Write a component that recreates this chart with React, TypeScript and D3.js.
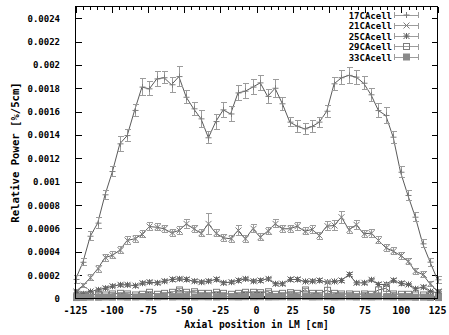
import * as d3 from 'd3'

// axial positions of the 50 measurement points [cm]
const POS = [
  -125, -119.9, -114.8, -109.7, -104.6, -99.5, -94.4, -89.3, -84.2, -79.1,
  -74.0, -68.9, -63.8, -58.7, -53.6, -48.5, -43.4, -38.3, -33.2, -28.1,
  -23.0, -17.9, -12.8, -7.7, -2.6, 2.6, 7.7, 12.8, 17.9, 23.0,
  28.1, 33.2, 38.3, 43.4, 48.5, 53.6, 58.7, 63.8, 68.9, 74.0,
  79.1, 84.2, 89.3, 94.4, 99.5, 104.6, 109.7, 114.8, 119.9, 125,
]

const V17 = [
  0.000163, 0.00031, 0.000533, 0.000645, 0.000888, 0.001087, 0.001324, 0.001395, 0.00161, 0.00181,
  0.001795, 0.00188, 0.00189, 0.00183, 0.0019, 0.001723, 0.001624, 0.001538, 0.001376, 0.001515,
  0.001615, 0.00158, 0.00176, 0.001775, 0.00181, 0.001846, 0.00173, 0.0018, 0.001667, 0.00151,
  0.001475, 0.001453, 0.001472, 0.00151, 0.001603, 0.001838, 0.00189, 0.00191, 0.001895, 0.001843,
  0.001744, 0.001609, 0.001567, 0.001381, 0.001081, 0.000882, 0.000696, 0.000468, 0.000311, 0.00016,
]
const E17 = [
  0.000035, 0.00003, 0.00004, 0.000045, 0.00004, 0.000045, 0.000065, 0.00005, 0.000055, 0.000075,
  0.00006, 0.000065, 0.00005, 0.000065, 0.000085, 0.000055, 0.000055, 0.00007, 0.00005, 0.000064,
  0.000064, 0.000064, 0.000065, 0.000064, 0.000064, 0.000064, 0.000057, 0.000075, 0.000057, 0.000036,
  0.000052, 0.000045, 0.00005, 0.000043, 0.00005, 0.000055, 0.00006, 0.000065, 0.00006, 0.000055,
  0.000055, 0.00006, 0.00007, 0.00005, 0.000045, 0.000045, 0.00004, 0.000035, 0.000035, 0.00003,
]

const V21 = [
  0.00006, 0.00011, 0.000177, 0.000254, 0.00035, 0.00037, 0.000414, 0.000497, 0.000511, 0.000548,
  0.000616, 0.00061, 0.000597, 0.000562, 0.000582, 0.000639, 0.000597, 0.000559, 0.000639, 0.000559,
  0.00052, 0.000511, 0.000582, 0.000511, 0.000597, 0.000525, 0.000576, 0.000639, 0.000597, 0.000597,
  0.000619, 0.000576, 0.000591, 0.000539, 0.000619, 0.000625, 0.000696, 0.000588, 0.000631, 0.000554,
  0.000559, 0.000497, 0.000434, 0.000405, 0.000368, 0.000319, 0.000234, 0.000205, 0.000126, 0.00006,
]
const E21 = [
  0.00002, 0.00002, 0.000025, 0.00003, 0.00003, 0.00003, 0.00003, 0.000035, 0.00003, 0.00003,
  0.000035, 0.00003, 0.00003, 0.00003, 0.000035, 0.00004, 0.00003, 0.00003, 0.000093, 0.00003,
  0.00003, 0.00003, 0.00004, 0.00003, 0.000035, 0.00003, 0.00003, 0.000035, 0.00003, 0.00003,
  0.000035, 0.00003, 0.000035, 0.00003, 0.00004, 0.00004, 0.00005, 0.00003, 0.00004, 0.00003,
  0.000035, 0.00003, 0.00003, 0.00003, 0.00003, 0.000025, 0.000025, 0.000025, 0.00002, 0.00002,
]

const V25 = [
  0.00005, 0.00004, 0.00006, 0.000074, 0.000088, 0.000105, 0.000117, 0.000117, 0.00011, 0.000131,
  0.00014, 0.000134, 0.000148, 0.000163, 0.000168, 0.000163, 0.000148, 0.00014, 0.000148, 0.000163,
  0.000134, 0.00014, 0.000154, 0.000168, 0.000148, 0.000154, 0.000168, 0.000126, 0.000126, 0.000163,
  0.000163, 0.000146, 0.000148, 0.000154, 0.00014, 0.000146, 0.000154, 0.000205, 0.000134, 0.000134,
  0.00016, 0.00012, 0.00012, 0.000155, 0.00013, 0.00012, 0.000083, 0.000097, 0.00006, 0.00005,
]
const E25 = [
  0.00001, 0.00001, 0.00001, 0.000012, 0.000012, 0.000012, 0.000012, 0.000012, 0.000012, 0.000015,
  0.000015, 0.000012, 0.000015, 0.000015, 0.000015, 0.000015, 0.000015, 0.000012, 0.000015, 0.000015,
  0.000012, 0.000012, 0.000015, 0.000015, 0.000012, 0.000015, 0.000015, 0.000012, 0.000012, 0.000015,
  0.000015, 0.000012, 0.000015, 0.000015, 0.000012, 0.000012, 0.000015, 0.00002, 0.000012, 0.000012,
  0.000015, 0.00002, 0.00002, 0.00002, 0.000015, 0.000012, 0.000012, 0.000012, 0.00001, 0.00001,
]

const V29 = [
  0.000015, 0.00003, 0.000024, 0.000039, 0.00003, 0.000039, 0.000044, 0.000039, 0.00003, 0.000036,
  0.000053, 0.000036, 0.000044, 0.000053, 0.000073, 0.000053, 0.000058, 0.000044, 0.000044, 0.000053,
  0.000044, 0.000036, 0.000044, 0.000053, 0.000053, 0.00005, 0.000058, 0.000036, 0.000044, 0.00005,
  0.000044, 0.000073, 0.000044, 0.000044, 0.00007, 0.000044, 0.000039, 0.000039, 0.000036, 0.000039,
  0.000036, 0.000073, 0.000087, 0.000039, 0.000036, 0.000036, 0.00003, 0.00003, 0.000024, 0.000015,
]
const E29 = [
  0.000008, 0.000008, 0.000008, 0.00001, 0.000008, 0.00001, 0.00001, 0.00001, 0.000008, 0.00001,
  0.00001, 0.00001, 0.00001, 0.00001, 0.000015, 0.00001, 0.00001, 0.00001, 0.00001, 0.00001,
  0.00001, 0.00001, 0.00001, 0.00001, 0.00001, 0.00001, 0.000012, 0.00001, 0.00001, 0.00001,
  0.00001, 0.000015, 0.00001, 0.00001, 0.00008, 0.00001, 0.00001, 0.00001, 0.00001, 0.00001,
  0.00001, 0.00003, 0.00004, 0.00001, 0.00001, 0.00001, 0.000008, 0.000008, 0.000008, 0.000008,
]

const V33 = [
  0.000008, 0.00001, 0.000012, 0.000011, 0.000013, 0.000012, 0.000014, 0.000012, 0.000013, 0.000015,
  0.000013, 0.000014, 0.000016, 0.000013, 0.000015, 0.000014, 0.000013, 0.000015, 0.000014, 0.000013,
  0.000015, 0.000014, 0.000013, 0.000015, 0.000014, 0.000015, 0.000013, 0.000014, 0.000015, 0.000013,
  0.000014, 0.000016, 0.000013, 0.000014, 0.000015, 0.000013, 0.000014, 0.000015, 0.000013, 0.000014,
  0.000013, 0.000015, 0.000014, 0.000013, 0.000012, 0.000013, 0.000011, 0.000012, 0.00001, 0.000008,
]
const E33 = [
  0.000004, 0.000004, 0.000004, 0.000004, 0.000004, 0.000004, 0.000004, 0.000004, 0.000004, 0.000005,
  0.000004, 0.000004, 0.000005, 0.000004, 0.000005, 0.000004, 0.000004, 0.000005, 0.000004, 0.000004,
  0.000005, 0.000004, 0.000004, 0.000005, 0.000004, 0.000005, 0.000004, 0.000004, 0.000005, 0.000004,
  0.000004, 0.000005, 0.000004, 0.000004, 0.000005, 0.000004, 0.000004, 0.000005, 0.000004, 0.000004,
  0.000004, 0.000005, 0.000004, 0.000004, 0.000004, 0.000004, 0.000004, 0.000004, 0.000004, 0.000004,
]

const SERIES_NAMES = ['17CAcell', '21CAcell', '25CAcell', '29CAcell', '33CAcell']
const MARKERS = ['plus', 'cross', 'star', 'box', 'fbox']

const X_TICKS = [-125, -100, -75, -50, -25, 0, 25, 50, 75, 100, 125]
const X_LABELS = ['-125', '-100', '-75', '-50', '-25', '0', '25', '50', '75', '100', '125']
const Y_TICKS = [0, 0.0002, 0.0004, 0.0006, 0.0008, 0.001, 0.0012, 0.0014, 0.0016, 0.0018, 0.002, 0.0022, 0.0024]
const Y_LABELS = ['0', '0.0002', '0.0004', '0.0006', '0.0008', '0.001', '0.0012', '0.0014', '0.0016', '0.0018', '0.002', '0.0022', '0.0024']

const W = 449
const H = 335
const FONT = '"DejaVu Sans Mono", monospace'
const LINE = '#5a5a5a'
const BAR = '#9c9c9c'
const MARK = '#7c7c7c'

function marker(kind: string, cx: number, cy: number, key: string | number) {
  const s = 3
  if (kind === 'plus')
    return <path key={key} d={`M${cx - s},${cy}H${cx + s}M${cx},${cy - s}V${cy + s}`} stroke={MARK} fill="none" />
  if (kind === 'cross')
    return <path key={key} d={`M${cx - s},${cy - s}L${cx + s},${cy + s}M${cx - s},${cy + s}L${cx + s},${cy - s}`} stroke={MARK} fill="none" />
  if (kind === 'star')
    return <path key={key} d={`M${cx - s},${cy}H${cx + s}M${cx},${cy - s}V${cy + s}M${cx - s},${cy - s}L${cx + s},${cy + s}M${cx - s},${cy + s}L${cx + s},${cy - s}`} stroke={'#606060'} fill="none" />
  if (kind === 'box')
    return <rect key={key} x={cx - s} y={cy - s} width={2 * s} height={2 * s} stroke={MARK} fill="none" />
  return <rect key={key} x={cx - s} y={cy - s} width={2 * s} height={2 * s} stroke={'#8a8a8a'} fill={'#8a8a8a'} />
}

export default function App() {
  const pad = { l: 75.5, r: 437.5, t: 6.5, b: 298.5 }
  const x = d3.scaleLinear().domain([-125, 125]).range([pad.l, pad.r])
  const y = d3.scaleLinear().domain([0, 0.0025]).range([pad.b, pad.t])

  const series = [
    { name: SERIES_NAMES[0], v: V17, e: E17, m: MARKERS[0] },
    { name: SERIES_NAMES[1], v: V21, e: E21, m: MARKERS[1] },
    { name: SERIES_NAMES[2], v: V25, e: E25, m: MARKERS[2] },
    { name: SERIES_NAMES[3], v: V29, e: E29, m: MARKERS[3] },
    { name: SERIES_NAMES[4], v: V33, e: E33, m: MARKERS[4] },
  ]

  const line = d3.line<number>().x((_, i) => x(POS[i])).y(d => y(d))
  const minor = d3.range(-125, 126, 5)

  return (
    <svg width={W} height={H} style={{ position: 'absolute', left: 0, top: 0, background: '#fff' }} fontFamily={FONT}>
      <rect width={W} height={H} fill="#fff" />

      {/* ticks on all four sides */}
      <g stroke="#000" shapeRendering="crispEdges">
        {minor.map(t => (
          <g key={'mx' + t}>
            <line x1={Math.round(x(t)) + 0.5} x2={Math.round(x(t)) + 0.5} y1={pad.b} y2={pad.b - (X_TICKS.includes(t) ? 6 : 3)} />
            <line x1={Math.round(x(t)) + 0.5} x2={Math.round(x(t)) + 0.5} y1={pad.t} y2={pad.t + (X_TICKS.includes(t) ? 6 : 3)} />
          </g>
        ))}
        {Y_TICKS.map(t => (
          <g key={'y' + t}>
            <line x1={pad.l} x2={pad.l + 6} y1={Math.round(y(t)) + 0.5} y2={Math.round(y(t)) + 0.5} />
            <line x1={pad.r} x2={pad.r - 6} y1={Math.round(y(t)) + 0.5} y2={Math.round(y(t)) + 0.5} />
          </g>
        ))}
      </g>

      {Y_TICKS.map((t, i) => (
        <text key={'yl' + t} x={60} y={y(t) + 3.5} textAnchor="end" fontSize={9} fontWeight="bold" fill="#000">{Y_LABELS[i]}</text>
      ))}
      {X_TICKS.map((t, i) => (
        <text key={'xl' + t} x={x(t)} y={313.5} textAnchor="middle" fontSize={10} fontWeight="bold" fill="#000">{X_LABELS[i]}</text>
      ))}
      <text x={(pad.l + pad.r) / 2} y={328} textAnchor="middle" fontSize={9.6} fontWeight="bold" fill="#000">Axial position in LM [cm]</text>
      <text transform={`translate(18.5,${(pad.t + pad.b) / 2}) rotate(-90)`} textAnchor="middle" fontSize={10.6} fontWeight="bold" fill="#000">Relative Power [%/5cm]</text>

      {/* series */}
      {series.map(s => (
        <g key={s.name}>
          <path d={line(s.v) || ''} fill="none" stroke={LINE} strokeWidth={1} />
          <g stroke={BAR} shapeRendering="crispEdges">
            {s.v.map((v, i) => {
              const cx = Math.round(x(POS[i])) + 0.5
              const y1 = y(v - s.e[i])
              const y2 = y(v + s.e[i])
              return (
                <path key={i} d={`M${cx},${y1}V${y2}M${cx - 3},${y1}H${cx + 3}M${cx - 3},${y2}H${cx + 3}`} />
              )
            })}
          </g>
          {s.v.map((v, i) => marker(s.m, Math.round(x(POS[i])) + 0.5, y(v), i))}
        </g>
      ))}

      {/* legend */}
      {series.map((s, i) => {
        const ly = 15 + i * 10.5
        return (
          <g key={'lg' + s.name}>
            <text x={392} y={ly + 3.5} textAnchor="end" fontSize={9} fontWeight="bold" fill="#000">{s.name}</text>
            <path d={`M394.5,${ly}H418.5M394.5,${ly - 3}V${ly + 3}M418.5,${ly - 3}V${ly + 3}`} stroke={BAR} fill="none" shapeRendering="crispEdges" />
            {marker(s.m, 406.5, ly, 'm')}
          </g>
        )
      })}

      <rect x={pad.l} y={pad.t} width={pad.r - pad.l} height={pad.b - pad.t} fill="none" stroke="#000" shapeRendering="crispEdges" />
    </svg>
  )
}
